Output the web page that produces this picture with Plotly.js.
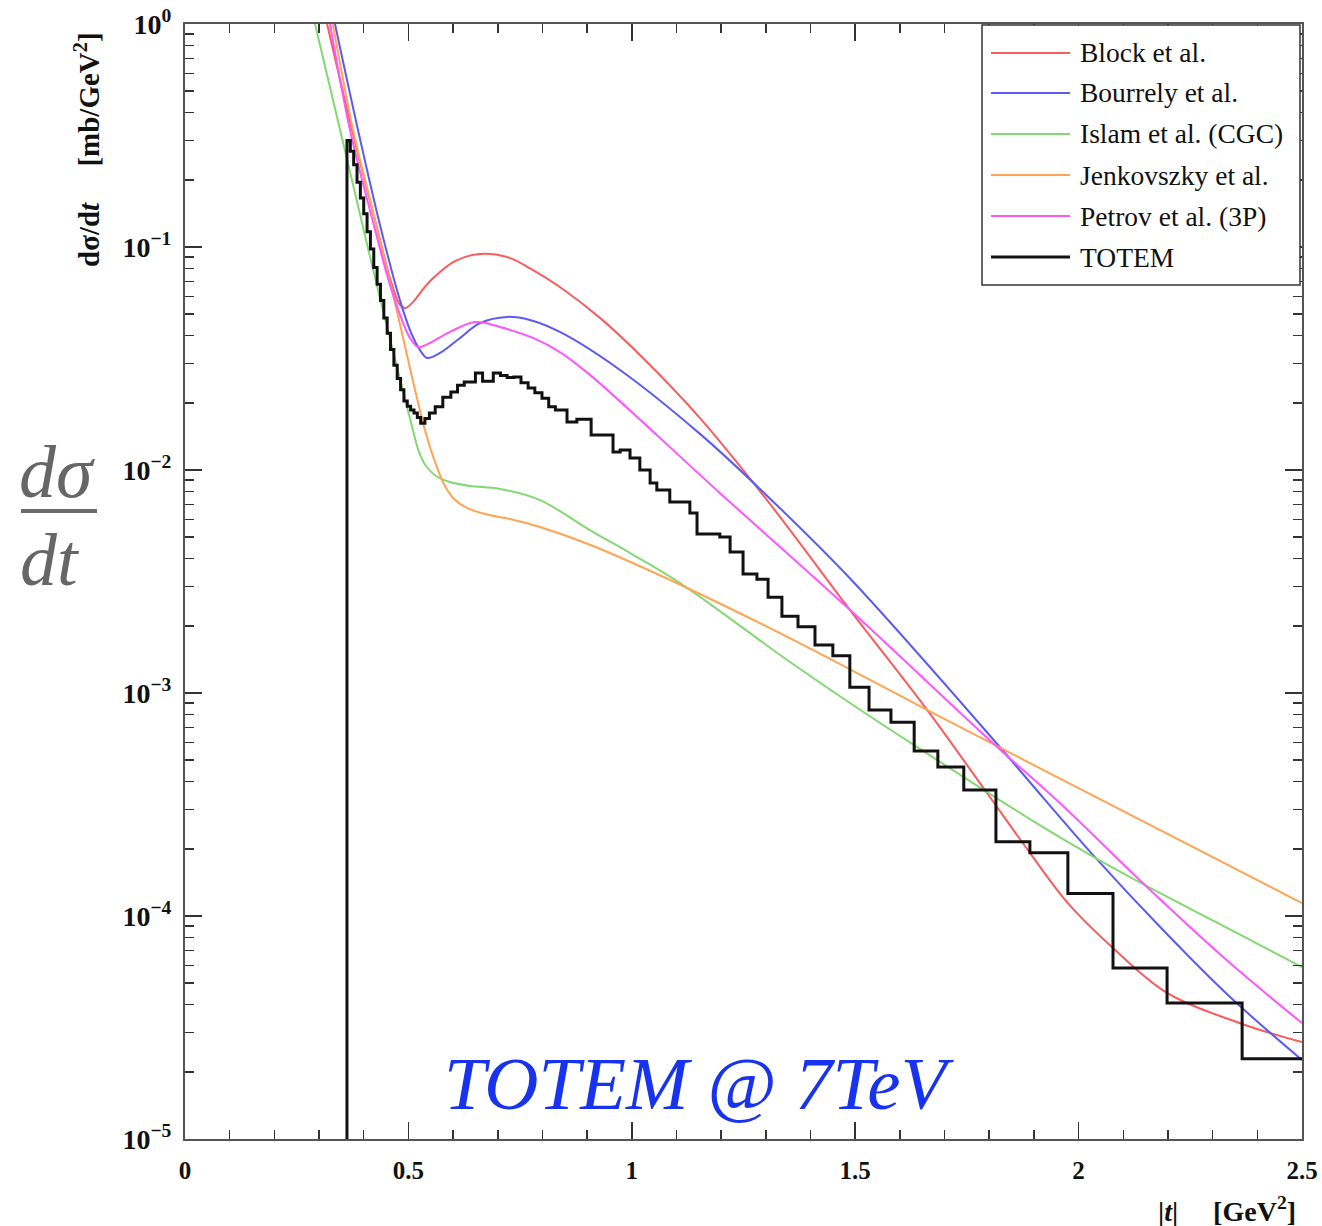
<!DOCTYPE html>
<html>
<head>
<meta charset="utf-8">
<script src="https://cdn.plot.ly/plotly-3.0.1.min.js"></script>
<style>html,body{margin:0;padding:0;background:#fff;}#chart{width:1322px;height:1226px;}</style>
</head>
<body>
<div id="chart"></div>
<script>
// ---------------- data ----------------
const seriesNames = ["Block et al.", "Bourrely et al.", "Islam et al. (CGC)", "Jenkovszky et al.", "Petrov et al. (3P)", "TOTEM"];

const blockT = [0.318, 0.3738, 0.4252, 0.4633, 0.481, 0.4924, 0.5103, 0.5304, 0.555, 0.6043, 0.660, 0.7207, 0.7789, 0.839, 0.9288, 1.025, 1.1526, 1.3026, 1.488, 1.661, 1.795, 1.891, 1.976, 2.077, 2.198, 2.366, 2.5];
const blockY = [1.0, 0.335, 0.132, 0.0676, 0.055, 0.0532, 0.0566, 0.0638, 0.0724, 0.0865, 0.093, 0.0902, 0.0788, 0.0662, 0.0481, 0.0318, 0.0171, 0.00733, 0.00236, 0.00084, 0.000356, 0.000192, 0.0001143, 0.0000719, 0.0000452, 0.0000328, 0.0000272];

const bourrelyT = [0.3357, 0.3872, 0.4364, 0.481, 0.508, 0.526, 0.5416, 0.5707, 0.6155, 0.660, 0.7207, 0.772, 0.839, 0.9736, 1.1526, 1.3026, 1.488, 1.808, 1.891, 2.030, 2.189, 2.339, 2.5];
const bourrelyY = [1.0, 0.335, 0.1256, 0.0578, 0.0403, 0.0345, 0.0318, 0.0335, 0.0391, 0.0456, 0.0486, 0.0471, 0.0416, 0.0281, 0.01452, 0.00767, 0.00327, 0.000622, 0.000398, 0.00019, 0.0000865, 0.0000433, 0.0000226];

const islamT = [0.291, 0.3805, 0.432, 0.510, 0.5237, 0.5394, 0.5618, 0.5931, 0.638, 0.705, 0.7945, 0.906, 1.0, 1.108, 1.347, 1.5, 1.638, 1.891, 2.0255, 2.153, 2.310, 2.5];
const islamY = [1.0, 0.1746, 0.0641, 0.0151, 0.01205, 0.01042, 0.0094, 0.00883, 0.00848, 0.00822, 0.00733, 0.00538, 0.0042, 0.00311, 0.00141, 0.00087, 0.000573, 0.000272, 0.000188, 0.000136, 0.0000933, 0.000059];

const jenkovszkyT = [0.331, 0.376, 0.414, 0.4633, 0.537, 0.5595, 0.5819, 0.6043, 0.6312, 0.6714, 0.7274, 0.7945, 0.9064, 1.130, 1.3765, 1.6607, 1.891, 2.5];
const jenkovszkyY = [1.0, 0.335, 0.1625, 0.0641, 0.0151, 0.01086, 0.00848, 0.00733, 0.00676, 0.00635, 0.00603, 0.00555, 0.00462, 0.00292, 0.00167, 0.00084, 0.000485, 0.0001143];

const petrovT = [0.3245, 0.3693, 0.4185, 0.4588, 0.4857, 0.5036, 0.5215, 0.548, 0.593, 0.649, 0.705, 0.7789, 0.839, 0.9064, 1.197, 1.488, 1.808, 1.958, 2.153, 2.339, 2.5];
const petrovY = [1.0, 0.335, 0.135, 0.0676, 0.0471, 0.0391, 0.0356, 0.0371, 0.0416, 0.0461, 0.0438, 0.0391, 0.0338, 0.0267, 0.00789, 0.00236, 0.000597, 0.000321, 0.000135, 0.0000615, 0.0000331];

// TOTEM histogram: left bin edges (last entry = right edge of last bin) and bin contents
const totemEdges = [0.3625, 0.370, 0.3775, 0.385, 0.3925, 0.400, 0.4075, 0.415, 0.4225, 0.430, 0.4375, 0.445, 0.4525, 0.460, 0.4675, 0.475, 0.4825, 0.490, 0.4975, 0.505, 0.5125, 0.520, 0.5275,
  0.537, 0.547, 0.560, 0.577, 0.595, 0.610, 0.625, 0.650, 0.666, 0.690, 0.706, 0.721, 0.736, 0.752, 0.768, 0.783, 0.799, 0.814, 0.829, 0.855, 0.877, 0.909, 0.958, 0.974, 0.996,
  1.018, 1.041, 1.056, 1.085, 1.130, 1.146, 1.197, 1.220, 1.249, 1.280, 1.305, 1.336, 1.372, 1.410, 1.450, 1.488, 1.531, 1.580, 1.632, 1.685, 1.743, 1.815, 1.891, 1.976, 2.077, 2.198, 2.366, 2.5];
const totemValues = [0.300, 0.269, 0.234, 0.195, 0.166, 0.141, 0.117, 0.098, 0.081, 0.068, 0.0575, 0.048, 0.041, 0.0347, 0.0295, 0.0257, 0.0229, 0.0204, 0.0193, 0.0186, 0.0180, 0.0172, 0.0162,
  0.0170, 0.0180, 0.0192, 0.0212, 0.0224, 0.0240, 0.0248, 0.0272, 0.0250, 0.0272, 0.0265, 0.0260, 0.0261, 0.0246, 0.0233, 0.0222, 0.0210, 0.0192, 0.0186, 0.0164, 0.0169, 0.01435, 0.01205, 0.0123, 0.01132,
  0.0100, 0.00875, 0.00813, 0.00719, 0.00641, 0.00516, 0.00501, 0.00429, 0.00342, 0.00324, 0.00269, 0.00221, 0.00198, 0.00164, 0.00147, 0.00106, 0.00084, 0.00074, 0.00055, 0.000466, 0.000367, 0.000215, 0.000192, 0.000126, 0.0000585, 0.0000407, 0.0000229];

const xTickVals = [0, 0.5, 1, 1.5, 2, 2.5];
const xTickText = ["0", "0.5", "1", "1.5", "2", "2.5"];
const yTickVals = [1, 0.1, 0.01, 0.001, 0.0001, 0.00001];
const yTickText = ["10<sup>0</sup>", "10<sup>\u22121</sup>", "10<sup>\u22122</sup>", "10<sup>\u22123</sup>", "10<sup>\u22124</sup>", "10<sup>\u22125</sup>"];

// ---------------- styles ----------------
const colors = ["#f85c5c", "#5a5af6", "#84d874", "#ffa453", "#ff55ff", "#111111"];
const serif = "Liberation Serif, Times New Roman, serif";

const modelX = [blockT, bourrelyT, islamT, jenkovszkyT, petrovT];
const modelY = [blockY, bourrelyY, islamY, jenkovszkyY, petrovY];

const traces = [];
for (let i = 0; i < 5; i++) {
  traces.push({
    x: modelX[i], y: modelY[i], type: 'scatter', mode: 'lines', name: seriesNames[i],
    line: {color: colors[i], width: 2, shape: 'spline', smoothing: 1},
    showlegend: false, hoverinfo: 'skip'
  });
}
// histogram drawn as steps
const hx = [totemEdges[0]].concat(totemEdges);
const hy = [1e-6].concat(totemValues, [totemValues[totemValues.length - 1]]);
traces.push({
  x: hx, y: hy, type: 'scatter', mode: 'lines', name: seriesNames[5],
  line: {color: colors[5], width: 3, shape: 'hv'}, showlegend: false, hoverinfo: 'skip'
});

// minor tick positions for log axis
const yMinor = [];
for (let d = -5; d < 0; d++) for (let k = 2; k <= 9; k++) yMinor.push(k * Math.pow(10, d));

// ---------------- layout ----------------
const L = 185, R = 20, T = 24, B = 87, W = 1322, H = 1226;
const pw = W - L - R, ph = H - T - B;
const px2x = p => (p - L) / pw;
const py2y = p => (H - B - p) / ph;

const shapes = [];
const annotations = [];

// custom legend box
shapes.push({type: 'rect', xref: 'paper', yref: 'paper', x0: px2x(982), x1: px2x(1300), y0: py2y(285), y1: py2y(25),
  line: {color: '#333', width: 1.5}, fillcolor: '#fff', layer: 'above'});
const rowY = [53, 93, 134, 175, 216, 257];
for (let i = 0; i < 6; i++) {
  shapes.push({type: 'line', xref: 'paper', yref: 'paper', x0: px2x(991), x1: px2x(1070), y0: py2y(rowY[i]), y1: py2y(rowY[i]),
    line: {color: colors[i], width: i === 5 ? 3 : 2}, layer: 'above'});
  annotations.push({xref: 'paper', yref: 'paper', x: px2x(1078), y: py2y(rowY[i]), xanchor: 'left', yanchor: 'middle',
    text: seriesNames[i], showarrow: false, font: {family: serif, size: 27.5, color: '#111'}});
}

// big gray fraction on the left
shapes.push({type: 'line', xref: 'paper', yref: 'paper', x0: px2x(21), x1: px2x(97), y0: py2y(511), y1: py2y(511),
  line: {color: '#6a6a6a', width: 4}});
annotations.push({xref: 'paper', yref: 'paper', x: px2x(57), y: py2y(472), xanchor: 'center', yanchor: 'middle',
  text: '<i>d\u03c3</i>', showarrow: false, font: {family: serif, size: 74, color: '#666'}});
annotations.push({xref: 'paper', yref: 'paper', x: px2x(50), y: py2y(560), xanchor: 'center', yanchor: 'middle',
  text: '<i>dt</i>', showarrow: false, font: {family: serif, size: 74, color: '#666'}});

// axis titles
annotations.push({xref: 'paper', yref: 'paper', x: px2x(87), y: py2y(150), xanchor: 'center', yanchor: 'middle', textangle: -90,
  text: '<b>d\u03c3/d<i>t</i>\u00a0\u00a0\u00a0\u00a0\u00a0[mb/GeV<sup>2</sup>]</b>', showarrow: false, font: {family: serif, size: 29, color: '#111'}});
annotations.push({xref: 'paper', yref: 'paper', x: px2x(1298), y: py2y(1209), xanchor: 'right', yanchor: 'middle',
  text: '<b>|<i>t</i>|\u00a0\u00a0\u00a0\u00a0\u00a0[GeV<sup>2</sup>]</b>', showarrow: false, font: {family: serif, size: 28, color: '#111'}});

// experiment label
annotations.push({xref: 'paper', yref: 'paper', x: px2x(699), y: py2y(1083), xanchor: 'center', yanchor: 'middle',
  text: '<i>TOTEM @ 7TeV</i>', showarrow: false, font: {family: serif, size: 75, color: '#1733f0'}});

const layout = {
  width: W, height: H,
  margin: {l: L, r: R, t: T, b: B, pad: 0},
  paper_bgcolor: '#fff', plot_bgcolor: '#fff',
  showlegend: false,
  xaxis: {
    range: [0, 2.5], tickvals: xTickVals, ticktext: xTickText,
    ticks: 'inside', ticklen: 17, tickwidth: 1.5, tickcolor: '#333',
    minor: {dtick: 0.1, tick0: 0, ticks: 'inside', ticklen: 9, tickwidth: 1.5, tickcolor: '#333', showgrid: false},
    showline: true, linecolor: '#555', linewidth: 2, mirror: 'allticks',
    showgrid: false, zeroline: false, tickfont: {family: serif, size: 25, color: '#111', weight: 'bold'}, ticklabelstandoff: 8
  },
  yaxis: {
    type: 'log', range: [-5, 0], tickvals: yTickVals, ticktext: yTickText,
    ticks: 'inside', ticklen: 17, tickwidth: 1.5, tickcolor: '#333',
    minor: {tickvals: yMinor, ticks: 'inside', ticklen: 9, tickwidth: 1.5, tickcolor: '#333', showgrid: false},
    showline: true, linecolor: '#555', linewidth: 2, mirror: 'allticks',
    showgrid: false, zeroline: false, tickfont: {family: serif, size: 28, color: '#111', weight: 'bold'}, ticklabelstandoff: 6
  },
  shapes: shapes,
  annotations: annotations
};

Plotly.newPlot('chart', traces, layout, {staticPlot: true, displayModeBar: false});
</script>
</body>
</html>
